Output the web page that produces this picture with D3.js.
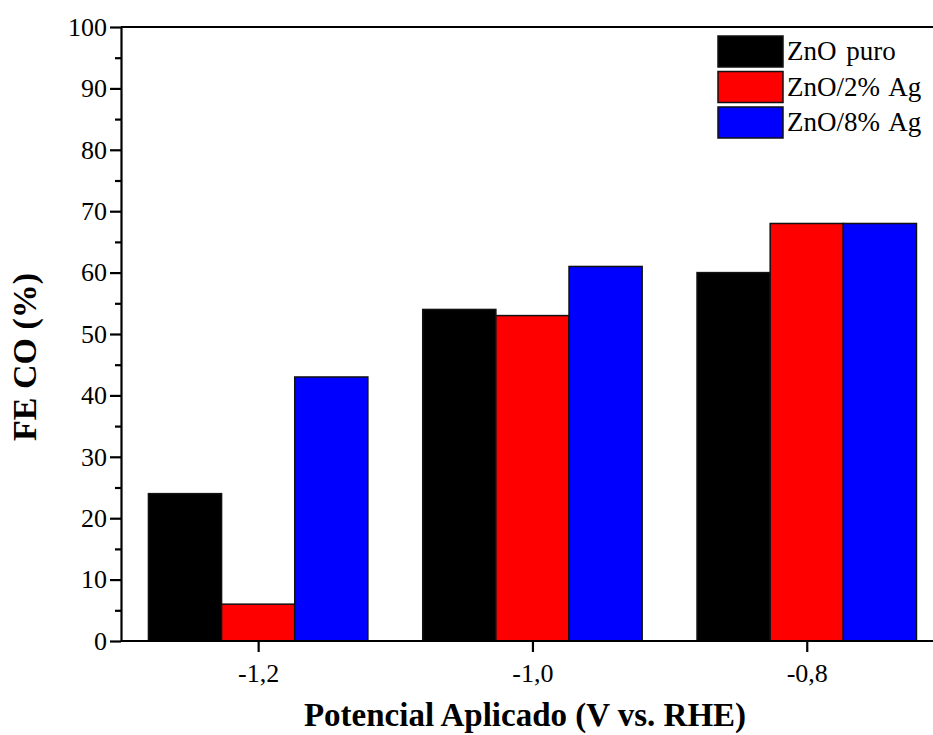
<!DOCTYPE html>
<html>
<head>
<meta charset="utf-8">
<script src="https://cdn.jsdelivr.net/npm/d3@7"></script>
<style>
  body { margin: 0; background: #fff; }
  svg { display: block; }
</style>
</head>
<body>
<svg id="chart" width="933" height="735"></svg>
<script>
// potentials (V vs. RHE) and FE CO (%) per sample
const potentials = [-1.2, -1.0, -0.8];
const seriesNames = ['ZnO puro', 'ZnO/2% Ag', 'ZnO/8% Ag'];
const seriesColors = ['#000000', '#ff0000', '#0000ff'];
const zno = [24, 54, 60];
const zno2Ag = [6, 53, 68];
const zno8Ag = [43, 61, 68];
const yTicks = [0, 10, 20, 30, 40, 50, 60, 70, 80, 90, 100];

const series = [zno, zno2Ag, zno8Ag];
const serif = '"Liberation Serif", "Times New Roman", serif';

const svg = d3.select('#chart');
const width = +svg.attr('width');
const height = +svg.attr('height');

const margin = { top: 27, left: 121, bottom: 94 };
const innerHeight = height - margin.top - margin.bottom;

const xScale = d3.scaleLinear()
  .domain([-1.3, -0.7])
  .range([margin.left, margin.left + 6 * 137.15]);

const yScale = d3.scaleLinear()
  .domain([0, 100])
  .range([margin.top + innerHeight, margin.top]);

const step = xScale(-1.0) - xScale(-1.2);
const barW = step * 0.8 / 3;

// bars
series.forEach((vals, si) => {
  svg.append('g').selectAll('rect').data(vals)
    .enter().append('rect')
      .attr('x', (d, i) => xScale(potentials[i]) - 1.5 * barW + si * barW)
      .attr('y', d => yScale(d))
      .attr('width', barW)
      .attr('height', d => yScale(0) - yScale(d))
      .attr('fill', seriesColors[si])
      .attr('stroke', '#111')
      .attr('stroke-width', 1.5);
});

// y axis with minor ticks
const yAxis = d3.axisLeft(yScale)
  .tickValues(yTicks)
  .tickSize(11)
  .tickPadding(3)
  .tickSizeOuter(0);

const yAxisG = svg.append('g')
  .attr('transform', `translate(${margin.left},0)`)
  .call(yAxis);

const yMinor = d3.axisLeft(yScale)
  .tickValues(d3.range(5, 100, 10))
  .tickSize(6)
  .tickFormat('')
  .tickSizeOuter(0);
const yMinorG = svg.append('g')
  .attr('transform', `translate(${margin.left},0)`)
  .call(yMinor);
yMinorG.select('.domain').remove();

// x axis
const xAxis = d3.axisBottom(xScale)
  .tickValues(potentials)
  .tickFormat(d => d3.format('.1f')(d).replace('.', ',').replace('−', '-'))
  .tickSize(11)
  .tickPadding(12)
  .tickSizeOuter(0);

const xAxisG = svg.append('g')
  .attr('transform', `translate(0,${yScale(0)})`)
  .call(xAxis);
xAxisG.select('.domain').attr('d', `M${margin.left},0H${width}`);

[xAxisG, yAxisG].forEach(g => {
  g.selectAll('.tick text')
    .attr('font-family', serif)
    .attr('font-size', 26)
    .attr('fill', '#000');
});

// top frame line
svg.append('line')
  .attr('x1', margin.left).attr('x2', width)
  .attr('y1', yScale(100)).attr('y2', yScale(100))
  .attr('stroke', '#000').attr('stroke-width', 2.2);

svg.selectAll('.domain').attr('stroke-width', 2.2);
svg.selectAll('.tick line').attr('stroke-width', 2.2);

// axis titles
svg.append('text')
  .attr('transform', `translate(36,357) rotate(-90)`)
  .attr('text-anchor', 'middle')
  .attr('font-family', serif)
  .attr('font-size', 34)
  .attr('font-weight', 'bold')
  .text('FE CO (%)');

svg.append('text')
  .attr('x', 525)
  .attr('y', 726)
  .attr('text-anchor', 'middle')
  .attr('font-family', serif)
  .attr('font-size', 33)
  .attr('font-weight', 'bold')
  .text('Potencial Aplicado (V vs. RHE)');

// legend
const legend = svg.append('g').attr('transform', 'translate(718,36)');
seriesNames.forEach((name, i) => {
  legend.append('rect')
    .attr('x', 0).attr('y', i * 35.5)
    .attr('width', 65).attr('height', 31)
    .attr('fill', seriesColors[i])
    .attr('stroke', '#111').attr('stroke-width', 1.5);
  legend.append('text')
    .attr('x', 69).attr('y', i * 35.5 + 24)
    .attr('font-family', serif)
    .attr('font-size', 27)
    .attr('word-spacing', 3)
    .text(name);
});
</script>
</body>
</html>
